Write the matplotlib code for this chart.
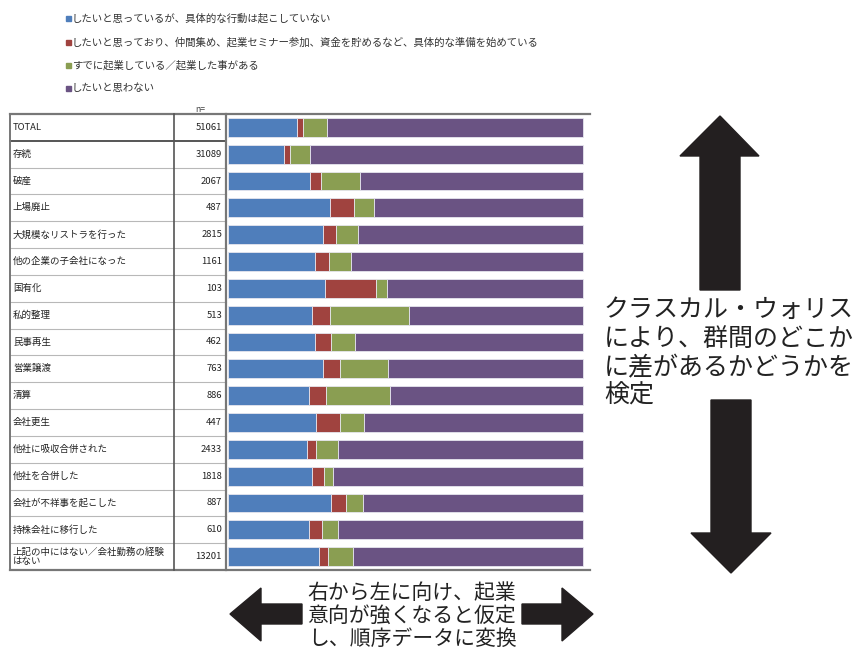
import matplotlib
matplotlib.use("Agg")
import matplotlib.pyplot as plt
from matplotlib.patches import Rectangle, Polygon

plt.rcParams['font.family'] = ['Noto Sans CJK JP', 'DejaVu Sans']

# --- data -------------------------------------------------------------
categories = [
    "TOTAL", "存続", "破産", "上場廃止", "大規模なリストラを行った",
    "他の企業の子会社になった", "国有化", "私的整理", "民事再生", "営業譲渡",
    "清算", "会社更生", "他社に吸収合併された", "他社を合併した",
    "会社が不祥事を起こした", "持株会社に移行した",
    "上記の中にはない／会社勤務の経験\nはない",
]
n_values = [51061, 31089, 2067, 487, 2815, 1161, 103, 513, 462, 763,
            886, 447, 2433, 1818, 887, 610, 13201]

# shares (%) per answer
want_no_action = [19.3, 15.8, 23.1, 28.7, 26.7, 24.6, 27.3, 23.7, 24.6, 26.7,
                  22.7, 24.9, 22.1, 23.7, 28.9, 22.7, 25.5]
preparing = [1.9, 1.5, 3.1, 6.9, 3.8, 3.9, 14.5, 5.0, 4.3, 4.8,
             4.9, 6.7, 2.6, 3.3, 4.4, 3.9, 2.6]
already_started = [6.6, 5.8, 11.0, 5.4, 6.0, 6.0, 3.0, 22.3, 7.0, 13.5,
                   18.1, 6.7, 6.4, 2.7, 4.8, 4.4, 7.1]
do_not_want = [100 - a - b - c for a, b, c in
               zip(want_no_action, preparing, already_started)]

series_labels = [
    "したいと思っているが、具体的な行動は起こしていない",
    "したいと思っており、仲間集め、起業セミナー参加、資金を貯めるなど、具体的な準備を始めている",
    "すでに起業している／起業した事がある",
    "したいと思わない",
]
series_values = [want_no_action, preparing, already_started, do_not_want]
series_colors = ["#4F7EBB", "#A0433F", "#8A9E52", "#6A5383"]

# --- figure -----------------------------------------------------------
W, H = 856, 652
fig = plt.figure(figsize=(W / 100, H / 100), dpi=100)

TOP, BOT = 114, 570          # table vertical extent (px)
X_LAB, X_N, X_BAR, X_END = 10, 174, 226, 590

def fx(px):
    return px / W

def fy(py):
    return 1 - py / H

# bar axes
axb = fig.add_axes([fx(X_BAR), fy(BOT), fx(X_END - X_BAR), (BOT - TOP) / H])
rows = list(range(len(categories)))
left = [0.0] * len(categories)
for vals, col in zip(series_values, series_colors):
    axb.barh(rows, vals, left=left, height=0.7, color=col,
             edgecolor="#e6e6ee", linewidth=0.6)
    left = [l + v for l, v in zip(left, vals)]
axb.set_xlim(-0.6, 102)
axb.set_ylim(len(categories) - 0.5, -0.5)
axb.axis("off")

# overlay in pixel coordinates for table, legend and annotations
ov = fig.add_axes([0, 0, 1, 1])
ov.set_xlim(0, W)
ov.set_ylim(H, 0)
ov.axis("off")
ov.patch.set_visible(False)

# legend
leg_y = [18, 42, 65, 88]
for y, lab, col in zip(leg_y, series_labels, series_colors):
    ov.add_patch(Rectangle((66, y - 2.5), 5, 5, color=col))
    ov.text(72, y, lab, fontsize=7.5, color="#333333", va="center", ha="left")

ov.text(200, 109, "n=", fontsize=6.2, color="#444444", ha="center", va="center")

# table grid
row_h = (BOT - TOP) / len(categories)
for k in range(1, len(categories)):
    y = TOP + k * row_h
    if k == 1:
        ov.plot([X_LAB, X_BAR], [y, y], color="#555555", lw=1.4)
    else:
        ov.plot([X_LAB, X_BAR], [y, y], color="#b8b8b8", lw=0.8)
ov.plot([X_LAB, X_END], [TOP, TOP], color="#777777", lw=1.6)
ov.plot([X_LAB, X_END], [BOT, BOT], color="#777777", lw=1.6)
ov.plot([X_LAB, X_LAB], [TOP, BOT], color="#777777", lw=1.4)
ov.plot([X_N, X_N], [TOP, BOT], color="#555555", lw=1.2)
ov.plot([X_BAR, X_BAR], [TOP, BOT], color="#777777", lw=1.6)

for i, (cat, n) in enumerate(zip(categories, n_values)):
    yc = TOP + (i + 0.5) * row_h
    ov.text(13, yc, cat, fontsize=6.8, color="#222222", ha="left", va="center",
            linespacing=1.05)
    ov.text(222, yc, f"{n}", fontsize=6.8, color="#222222", ha="right",
            va="center")

# arrows
arrow_col = "#231F20"
up = [(720, 116), (759, 156), (740, 156), (740, 290), (700, 290),
      (700, 156), (680, 156)]
down = [(731, 573), (771, 533), (751, 533), (751, 400), (711, 400),
        (711, 533), (691, 533)]
left_arrow = [(230, 614), (261, 588), (261, 604), (302, 604), (302, 624),
              (261, 624), (261, 641)]
right_arrow = [(593, 614), (562, 588), (562, 604), (522, 604), (522, 624),
               (562, 624), (562, 641)]
for pts in (up, down, left_arrow, right_arrow):
    ov.add_patch(Polygon(pts, closed=True, color=arrow_col))

side_lines = ["クラスカル・ウォリス", "により、群間のどこか",
              "に差があるかどうかを", "検定"]
for y, t in zip([310, 339, 368, 396], side_lines):
    ov.text(604, y, t, fontsize=18, color="#222222", ha="left", va="center")

bottom_lines = ["右から左に向け、起業", "意向が強くなると仮定",
                "し、順序データに変換"]
for y, t in zip([593, 616, 639], bottom_lines):
    ov.text(412, y, t, fontsize=15, color="#222222", ha="center", va="center")

fig.savefig("out.png", dpi=100)
